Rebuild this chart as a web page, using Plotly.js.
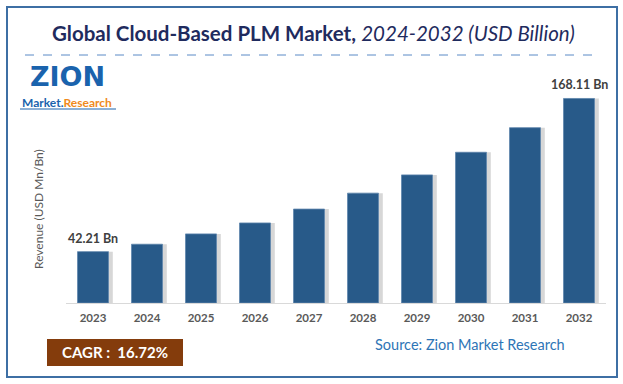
<!DOCTYPE html>
<html>
<head>
<meta charset="utf-8">
<script src="https://cdn.plot.ly/plotly-3.0.1.min.js"></script>
<style>html,body{margin:0;padding:0;background:#fff;}#chart{width:623px;height:384px;}</style>
</head>
<body>
<div id="chart"></div>
<script>
const years = ["2023","2024","2025","2026","2027","2028","2029","2030","2031","2032"];
const revenue = [42.21, 48.3, 56.8, 65.8, 77.2, 90.3, 105.3, 123.9, 144.1, 168.11];
const labelYears = ["2023","2032"];
const labelTexts = ["42.21 Bn","168.11 Bn"];
const cagrText = "CAGR :  16.72%";
const sourceText = "Source: Zion Market Research";

const W = 623, H = 384;
const M = {l: 66, r: 17, t: 84, b: 81};
const pw = W - M.l - M.r, ph = H - M.t - M.b;
const px = x => (x - M.l) / pw;
const py = y => (H - M.b - y) / ph;

const FONT = "Lato, 'Open Sans', sans-serif";
const barW = 0.574;

const shadow = {
  type: "bar", x: years, y: revenue, width: barW, offset: -barW/2 + 0.08,
  marker: {color: "rgba(110,110,110,0.28)", line: {width: 0}},
  hoverinfo: "skip", showlegend: false
};
const bars = {
  type: "bar", x: years, y: revenue, width: barW, offset: -barW/2,
  marker: {color: "#285a89", line: {color: "#5f86ad", width: 0.8}},
  showlegend: false
};

function paperText(x, y, text, font, extra) {
  return Object.assign({x: px(x), y: py(y), xref: "paper", yref: "paper", text: text,
    showarrow: false, xanchor: "center", yanchor: "middle", font: font}, extra || {});
}

const annotations = [];
labelYears.forEach((yr, i) => {
  const idx = years.indexOf(yr);
  annotations.push({x: idx, y: revenue[idx], xref: "x", yref: "y",
    text: "<b>" + labelTexts[i] + "</b>", showarrow: false, xanchor: "center", yanchor: "bottom", yshift: 4,
    font: {family: FONT, size: 12.5, color: "#404040"}});
});
annotations.push(paperText(38, 209, "Revenue (USD Mn/Bn)", {family: FONT, size: 12, color: "#595959"}, {textangle: -90}));
annotations.push(paperText(313, 33, "<b>Global Cloud-Based PLM Market,</b> <i>2024-2032 (USD Billion)</i>",
  {family: FONT, size: 20.5, color: "#1f2b5e"}));
annotations.push(paperText(115, 352, "<b>" + cagrText + "</b>", {family: FONT, size: 15, color: "#ffffff"}));
annotations.push(paperText(470, 344, sourceText, {family: FONT, size: 14.5, color: "#2e75b6"}));
// logo
annotations.push(paperText(67, 77, "<b>ZION</b>", {family: "'DejaVu Sans', sans-serif", size: 27, color: "#1a63ad"}));
annotations.push(paperText(67, 102, "<b>Market.<span style='color:#f08a1c'>Research</span></b>",
  {family: FONT, size: 12, color: "#1a63ad"}));

const shapes = [
  {type: "rect", xref: "paper", yref: "paper", x0: px(7), x1: px(617), y0: py(7), y1: py(377),
    line: {color: "#3e6fa4", width: 2}, fillcolor: "rgba(0,0,0,0)"},
  {type: "line", xref: "paper", yref: "paper", x0: px(25), x1: px(600), y0: py(55), y1: py(55),
    line: {color: "#5b8ac6", width: 1, dash: "dash"}},
  {type: "rect", xref: "paper", yref: "paper", x0: px(47), x1: px(183), y0: py(339), y1: py(366),
    line: {width: 0}, fillcolor: "#843c0c", layer: "below"},
  {type: "line", xref: "paper", yref: "paper", x0: px(20), x1: px(116), y0: py(109), y1: py(109),
    line: {color: "#1a63ad", width: 1}}
];

const layout = {
  width: W, height: H, margin: M, paper_bgcolor: "#ffffff", plot_bgcolor: "#ffffff",
  barmode: "overlay", showlegend: false,
  xaxis: {type: "category", range: [-0.5, 9.5], showgrid: false, zeroline: false,
    showline: true, linecolor: "#d9d9d9", linewidth: 1, ticks: "",
    tickfont: {family: FONT, size: 11.5, color: "#595959", weight: "bold"}, ticklabelstandoff: 4},
  yaxis: {range: [0, 180], showgrid: false, zeroline: false, showline: false, showticklabels: false, ticks: ""},
  annotations: annotations, shapes: shapes, font: {family: FONT}
};
Plotly.newPlot("chart", [shadow, bars], layout, {staticPlot: true});
</script>
</body>
</html>
